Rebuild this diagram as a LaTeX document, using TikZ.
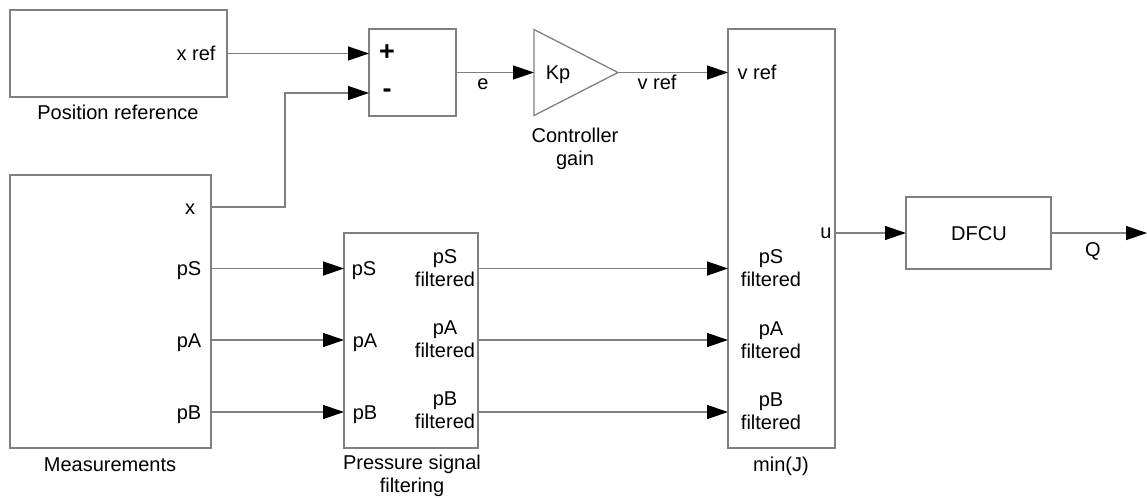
\documentclass[tikz,border=0pt]{standalone}
\usepackage{fontspec}
\setmainfont{Liberation Sans}
\usetikzlibrary{arrows.meta,calc}
\definecolor{linegray}{RGB}{128,128,128}
\begin{document}
\begin{tikzpicture}[x=1pt,y=-1pt,
  every node/.style={font=\fontsize{20}{23}\selectfont, inner sep=0pt, outer sep=0pt},
  box/.style={draw=linegray, line width=1.3pt},
  lab/.style={text height=14.3pt, text depth=0pt},
  two/.style={align=center, anchor=north},
  sym/.style={font=\fontsize{27}{27}\selectfont\bfseries},
  sig/.style={draw=linegray, line width=1.3pt, -{Triangle[length=21pt,width=14pt,color=black,fill=black]}}]
\useasboundingbox (0,0) rectangle (1147,498);

% Position reference
\node[box, minimum width=217pt, minimum height=87pt] (posref) at (118.5,53.5) {};
\node[lab] (xreflab) at (196,53) {x ref};
\node[lab] (posreflab) at (118,112) {Position reference};

% Summation
\node[box, minimum width=87pt, minimum height=87pt] (sum) at (412.5,72.5) {};
\node[sym] (plus) at (387,53) {+};
\node[sym] (minus) at (387,93) {-};

% Gain
\node[minimum width=84pt, minimum height=86pt] (gain) at (576,72.5) {};
\draw[box] (gain.north west) -- (gain.east) -- (gain.south west) -- cycle;
\node[lab] (kp) at (558,72) {Kp};
\node[two] (gainlab) at (575,128) {Controller\\gain};

% Measurements
\node[box, minimum width=201pt, minimum height=273pt] (meas) at (110.5,311.5) {};
\node[lab] (mx) at (190,207) {x};
\node[lab] (mps) at (189,268.5) {pS};
\node[lab] (mpa) at (189,340) {pA};
\node[lab] (mpb) at (189,412) {pB};
\node[lab] (measlab) at (110,464) {Measurements};

% Filtering
\node[box, minimum width=134pt, minimum height=215pt] (filt) at (411,340.5) {};
\node[lab] (fps) at (364,268.5) {pS};
\node[lab] (fpa) at (365,340) {pA};
\node[lab] (fpb) at (365,412) {pB};
\node[two] (fpsf) at (445,250) {pS\\filtered};
\node[two] (fpaf) at (445,321) {pA\\filtered};
\node[two] (fpbf) at (445,392) {pB\\filtered};
\node[two] (filtlab) at (412,455) {Pressure signal\\filtering};

% min(J)
\node[box, minimum width=107pt, minimum height=419pt] (minJ) at (781.5,238.5) {};
\node[lab] (jvref) at (757,72) {v ref};
\node[lab] (ju) at (826,231) {u};
\node[two] (jps) at (771,250) {pS\\filtered};
\node[two] (jpa) at (771,322) {pA\\filtered};
\node[two] (jpb) at (771,393) {pB\\filtered};
\node[lab] (minJlab) at (781,464) {min(J)};

% DFCU
\node[box, minimum width=145pt, minimum height=72pt] (dfcu) at (978.5,233) {};
\node[lab] (dfculab) at (979,233) {DFCU};
\coordinate (qend) at (1147,233);

% signal labels
\node[lab] (elab) at (483,82) {e};
\node[lab] (vreflab) at (657,82) {v ref};
\node[lab] (qlab) at (1093,249) {Q};

% connectors
\draw[sig] (posref.east) -- (sum.west |- posref.east);
\draw[sig] (meas.east |- mx) -- ++(74,0) |- (sum.west |- minus);
\draw[sig] (sum.east) -- (gain.west);
\draw[sig] (gain.east) -- (minJ.west |- gain.east);
\draw[sig] (meas.east |- mps) -- (filt.west |- mps);
\draw[sig] (meas.east |- mpa) -- (filt.west |- mpa);
\draw[sig] (meas.east |- mpb) -- (filt.west |- mpb);
\draw[sig] (filt.east |- mps) -- (minJ.west |- mps);
\draw[sig] (filt.east |- mpa) -- (minJ.west |- mpa);
\draw[sig] (filt.east |- mpb) -- (minJ.west |- mpb);
\draw[sig] (minJ.east |- dfcu) -- (dfcu.west);
\draw[sig] (dfcu.east) -- (qend);
\end{tikzpicture}
\end{document}
